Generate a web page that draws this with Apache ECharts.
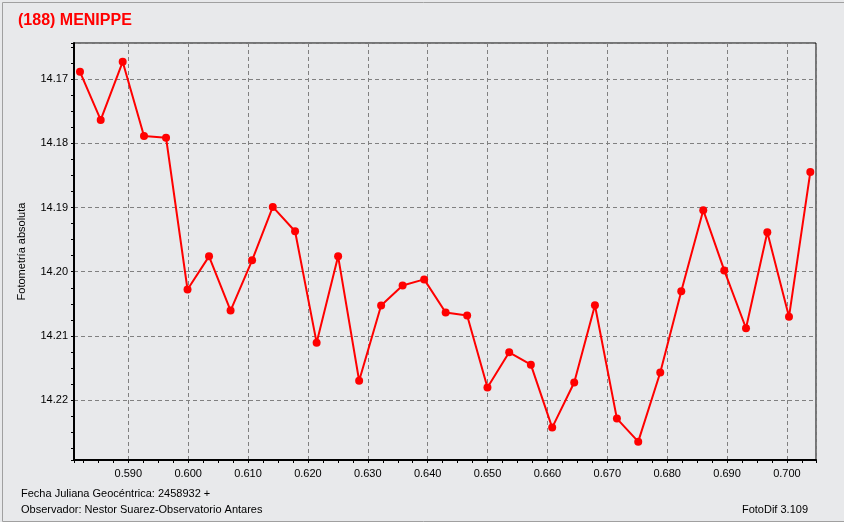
<!DOCTYPE html>
<html><head><meta charset="utf-8">
<script src="https://cdn.jsdelivr.net/npm/echarts@6/dist/echarts.min.js"></script>
<style>html,body{margin:0;padding:0;background:#e8e9eb}#c{width:844px;height:522px}</style>
</head><body><div id="c"></div>
<script>
const chartTitle = '(188) MENIPPE';
const yAxisTitle = 'Fotometría absoluta';
const footerLeft1 = 'Fecha Juliana Geocéntrica: 2458932 +';
const footerLeft2 = 'Observador: Nestor Suarez-Observatorio Antares';
const footerRight = 'FotoDif 3.109';

const jd = [0.58193,0.58539,0.58906,0.59262,0.59630,0.59989,0.60348,0.60708,0.61067,0.61413,
  0.61785,0.62145,0.62504,0.62855,0.63222,0.63581,0.63941,0.64300,0.64659,0.64998,
  0.65361,0.65723,0.66079,0.66447,0.66793,0.67160,0.67516,0.67884,0.68235,0.68602,
  0.68953,0.69316,0.69672,0.70034,0.70390];
const mag = [14.16886,14.17636,14.16730,14.17886,14.17913,14.20277,14.19761,14.20605,14.19823,14.18991,
  14.19370,14.21105,14.19761,14.21698,14.20527,14.20214,14.20120,14.20636,14.20683,14.21803,
  14.21256,14.21448,14.22428,14.21725,14.20522,14.22288,14.22647,14.21569,14.20303,14.19042,
  14.19980,14.20881,14.19386,14.20703,14.18448];

const xMin = 0.58093, xMax = 0.70485;
const yMin = 14.164375, yMax = 14.22933;

const font = '"Liberation Sans", Arial, sans-serif';
const onMajor = (v) => Math.abs(v * 100 - Math.round(v * 100)) < 1e-6;

const chart = echarts.init(document.getElementById('c'), null, {renderer: 'canvas'});
chart.setOption({
  backgroundColor: '#e8e9eb',
  animation: false,
  title: {
    text: chartTitle, left: 13, top: 8,
    textStyle: {color: '#ff0000', fontSize: 16, fontWeight: 'bold', fontFamily: font}
  },
  grid: {
    left: 74, right: 28, top: 43, bottom: 62,
    show: true, borderColor: '#000', borderWidth: 1, backgroundColor: '#e8e9eb'
  },
  xAxis: {
    type: 'value', min: xMin, max: xMax, splitNumber: 12,
    axisLine: {show: true, lineStyle: {color: '#000', width: 2}},
    axisTick: {show: true, length: 3, lineStyle: {color: '#000'}},
    minorTick: {show: true, splitNumber: 4, length: 3, lineStyle: {color: '#000'}},
    splitLine: {show: true, lineStyle: {color: '#808080', type: [4, 3], width: 1}},
    axisLabel: {
      color: '#000', fontSize: 11, fontFamily: font, margin: 8,
      formatter: v => onMajor(v) ? v.toFixed(3) : ''
    }
  },
  yAxis: {
    type: 'value', inverse: true, min: yMin, max: yMax, splitNumber: 6,
    name: yAxisTitle, nameLocation: 'middle', nameGap: 47,
    nameTextStyle: {color: '#000', fontSize: 11, fontFamily: font},
    axisLine: {show: true, lineStyle: {color: '#000', width: 2}},
    axisTick: {show: true, length: 3, lineStyle: {color: '#000'}},
    minorTick: {show: true, splitNumber: 4, length: 3, lineStyle: {color: '#000'}},
    splitLine: {show: true, lineStyle: {color: '#808080', type: [4, 3], width: 1}},
    axisLabel: {
      color: '#000', fontSize: 11, fontFamily: font, margin: 6,
      formatter: v => onMajor(v) ? v.toFixed(2) : ''
    }
  },
  series: [{
    type: 'line',
    data: jd.map((x, i) => [x, mag[i]]),
    symbol: 'circle', symbolSize: 8,
    itemStyle: {color: '#ff0000'},
    lineStyle: {color: '#ff0000', width: 2},
    clip: false
  }],
  graphic: [
    {type: 'rect', left: 0, top: 0, shape: {x: 0.5, y: 0.5, width: 842, height: 519},
      style: {fill: 'none', stroke: '#a0a0a0', lineWidth: 1}, silent: true, z: -1},
    {type: 'text', left: 21, top: 488, style: {text: footerLeft1, font: '11px ' + font, fill: '#000'}},
    {type: 'text', left: 21, top: 504, style: {text: footerLeft2, font: '11px ' + font, fill: '#000'}},
    {type: 'text', right: 36, top: 504, style: {text: footerRight, font: '11px ' + font, fill: '#000'}}
  ]
});
</script>
</body></html>
